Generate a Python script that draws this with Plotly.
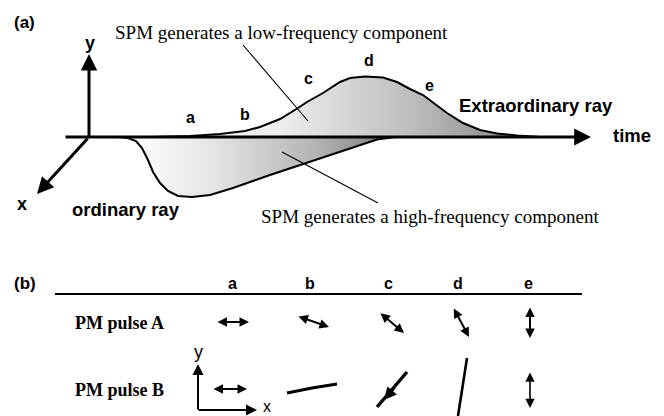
import plotly.graph_objects as go

W, H = 664, 416

# ---- digitized geometry (pixel coordinates) ----
# (a) extraordinary ray envelope (above time axis)
ext_x = [150, 190, 220, 245, 260, 280, 298, 307, 323, 340, 350, 365, 383, 397, 410, 423, 435, 447, 463, 480, 497, 517, 540]
ext_y = [137, 136, 134, 131, 127, 119, 108, 102, 93, 82, 78, 76.5, 77.5, 82, 89, 95, 104, 113, 123, 130, 133.5, 135.5, 137]
# (a) ordinary ray envelope (below time axis)
ord_x = [118, 128, 136, 142, 148, 153, 160, 168, 178, 192, 210, 233, 267, 307, 333, 360, 377, 395]
ord_y = [137, 138, 141, 148, 160, 172, 183, 191, 196, 197, 195, 188, 176, 163, 154, 145, 139.5, 137]

# axes of panel (a): [tail, tip]
time_axis = [(64, 137), (591, 137)]
y_axis = [(89, 138), (89, 54)]
x_axis = [(89, 137), (37, 194)]

# leader lines
low_leader = [(243, 45), (308, 121)]
high_leader = [(282, 152), (378, 203)]

# point labels a..e on the curve
pt_labels = ["a", "b", "c", "d", "e"]
pt_x = [190, 245, 308, 369, 429]
pt_y = [117, 114, 78, 60, 85]

# (b) table
col_labels = ["a", "b", "c", "d", "e"]
col_x = [232, 310, 388, 458, 528]
header_y = 283
rule_line = [(55, 294), (582, 294)]
row_labels = ["PM pulse A", "PM pulse B"]
row_y = [323, 390]

# row A: double-headed polarization arrows (start, end)
rowA = [((216, 322), (249, 322)), ((297, 316), (329, 327)), ((379, 312), (404, 333)),
        ((453, 307), (469, 337)), ((530, 306), (530, 338))]
# row B
rowB_a = ((212, 389), (247, 389))
rowB_b = [(287, 393), (312, 388), (337, 384)]
rowB_c = [(377, 407), (392, 390), (407, 372)]
rowB_c_arrow = ((396, 386), (384, 400))
rowB_d = [(467, 358), (458, 416)]
rowB_e = ((530, 371), (530, 408))
small_y_axis = [(198, 411), (198, 364)]
small_x_axis = [(197, 410), (257, 410)]

fig = go.Figure()

# gradient fills
fig.add_trace(go.Scatter(
    x=ord_x, y=ord_y, mode="lines", fill="toself",
    line=dict(color="black", width=2),
    fillgradient=dict(type="horizontal", start=130, stop=395,
                      colorscale=[[0, "#ffffff"], [0.3, "#e6e6e6"], [0.7, "#b4b4b4"], [1, "#7a7a7a"]]),
    hoverinfo="skip", showlegend=False))
fig.add_trace(go.Scatter(
    x=ext_x, y=ext_y, mode="lines", fill="toself",
    line=dict(color="black", width=2),
    fillgradient=dict(type="horizontal", start=160, stop=520,
                      colorscale=[[0, "#ffffff"], [0.35, "#ebebeb"], [0.7, "#bdbdbd"], [1, "#888888"]]),
    hoverinfo="skip", showlegend=False))


def seg(pts, width, color="black"):
    fig.add_trace(go.Scatter(x=[p[0] for p in pts], y=[p[1] for p in pts], mode="lines",
                             line=dict(color=color, width=width), hoverinfo="skip", showlegend=False))


seg(low_leader, 1.1)
seg(high_leader, 1.1)
seg(rule_line, 1.8)
seg(rowB_b, 3.2)
seg(rowB_c, 3.4)
seg(rowB_d, 2.6)

annotations = []


def arrow(tail, tip, width, size=1.0, double=False, head=2):
    d = dict(x=tip[0], y=tip[1], ax=tail[0], ay=tail[1], xref="x", yref="y", axref="x", ayref="y",
             text="", showarrow=True, arrowhead=head, arrowsize=size, arrowwidth=width,
             arrowcolor="black", standoff=0, startstandoff=0)
    if double:
        d.update(arrowside="end+start", startarrowhead=head, startarrowsize=size)
    annotations.append(d)


arrow(time_axis[0], time_axis[1], 3.2, 1.05)
arrow(y_axis[0], y_axis[1], 3.0, 1.1)
arrow(x_axis[0], x_axis[1], 3.0, 1.1)
for a, b in rowA:
    arrow(a, b, 2.0, 0.95, double=True)
arrow(rowB_a[0], rowB_a[1], 2.0, 0.95, double=True)
arrow(rowB_e[0], rowB_e[1], 1.6, 1.15, double=True)
arrow(rowB_c_arrow[0], rowB_c_arrow[1], 2.5, 1.0)
arrow(small_y_axis[0], small_y_axis[1], 2.0, 1.1)
arrow(small_x_axis[0], small_x_axis[1], 2.0, 1.1)

SANS = "Liberation Sans, Arial, sans-serif"
SERIF = "Liberation Serif, Times New Roman, serif"


def txt(s, x, y, size, family=SANS, bold=True, xanchor="center"):
    annotations.append(dict(x=x, y=y, xref="x", yref="y", text=("<b>%s</b>" % s) if bold else s,
                            showarrow=False, xanchor=xanchor, yanchor="middle",
                            font=dict(family=family, size=size, color="black")))


txt("(a)", 12, 22, 17, xanchor="left")
txt("(b)", 12, 283, 17, xanchor="left")
txt("y", 90, 43, 18)
txt("x", 22, 204, 18)
txt("time", 632, 135, 18.5)
txt("Extraordinary ray", 536, 105, 18.5)
txt("ordinary ray", 126, 209, 18.5)
txt("SPM generates a low-frequency component", 281, 32, 19, family=SERIF, bold=False)
txt("SPM generates a high-frequency component", 430, 216, 19, family=SERIF, bold=False)
for s, x, y in zip(pt_labels, pt_x, pt_y):
    txt(s, x, y, 16)
for s, x in zip(col_labels, col_x):
    txt(s, x, header_y, 16)
for s, y in zip(row_labels, row_y):
    txt(s, 73, y, 18, family=SERIF, xanchor="left")
txt("y", 198, 352, 18, bold=False)
txt("x", 267, 406, 16, bold=False)

fig.update_layout(
    width=W, height=H, margin=dict(l=0, r=0, t=0, b=0),
    paper_bgcolor="white", plot_bgcolor="white",
    xaxis=dict(range=[0, W], visible=False, fixedrange=True),
    yaxis=dict(range=[H, 0], visible=False, fixedrange=True),
    annotations=annotations,
)

fig.write_html("out.html", config={"displayModeBar": False},
               post_script="document.body.style.margin='0';document.body.style.overflow='hidden';")
